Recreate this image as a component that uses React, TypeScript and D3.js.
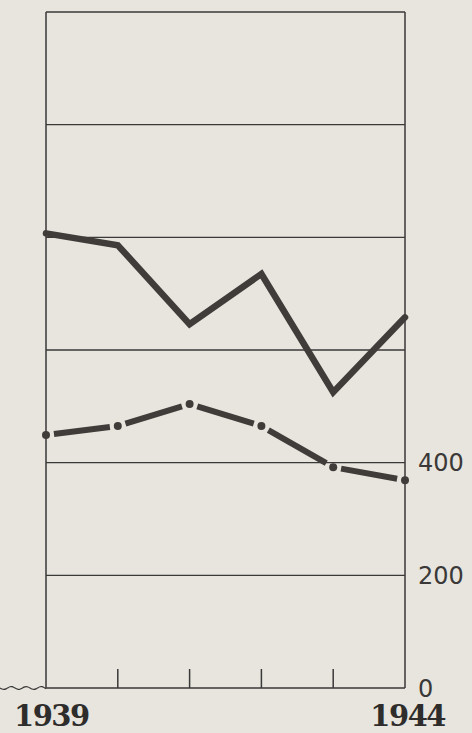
import { useEffect, useRef } from "react";
import * as d3 from "d3";

// years on the x axis
const years = [1939, 1940, 1941, 1942, 1943, 1944];
// upper series (solid heavy line)
const solidValues = [807, 786, 646, 735, 525, 658];
// lower series (dash-dot line)
const dashedValues = [449, 465, 504, 465, 392, 369];
// right axis tick labels
const yTicks = [0, 200, 400];
const gridValues = [200, 400, 600, 800, 1000, 1200];

const W = 472;
const H = 733;

const App = () => {
  const svgRef = useRef<SVGSVGElement | null>(null);

  useEffect(() => {
    if (!svgRef.current) return;
    const svg = d3.select(svgRef.current);
    svg.selectAll("*").remove();

    const ink = "#3b3938";
    const margin = { top: 12, right: 67, bottom: 45, left: 46 };
    const width = W - margin.left - margin.right;
    const height = H - margin.top - margin.bottom;

    svg.append("rect").attr("width", W).attr("height", H).attr("fill", "#e7e5de");

    const g = svg.append("g").attr("transform", `translate(${margin.left},${margin.top})`);

    const x = d3.scaleLinear().domain([1939, 1944]).range([0, width]);
    const y = d3.scaleLinear().domain([0, 1200]).range([height, 0]);

    // grid lines
    g.selectAll("line.grid")
      .data(gridValues)
      .enter()
      .append("line")
      .attr("x1", 0)
      .attr("x2", width)
      .attr("y1", (d) => y(d))
      .attr("y2", (d) => y(d))
      .attr("stroke", ink)
      .attr("stroke-width", 1.3);

    // frame sides + baseline
    g.append("path")
      .attr("d", `M0,${y(0)}V${y(1200)}M${width},${y(1200)}V${y(0)}M0,${y(0)}H${width}`)
      .attr("fill", "none")
      .attr("stroke", ink)
      .attr("stroke-width", 1.5);

    // inner x ticks
    g.selectAll("line.tick")
      .data(years.slice(1, -1))
      .enter()
      .append("line")
      .attr("x1", (d) => x(d))
      .attr("x2", (d) => x(d))
      .attr("y1", y(0))
      .attr("y2", y(0) - 19)
      .attr("stroke", ink)
      .attr("stroke-width", 1.5);

    // wavy break line left of the frame
    const wave = d3.range(0, margin.left + 1, 2).map((px) => [px - margin.left, y(0) + 1.6 * Math.sin((px / 15) * Math.PI * 2)] as [number, number]);
    g.append("path")
      .attr("d", d3.line().curve(d3.curveBasis)(wave))
      .attr("fill", "none")
      .attr("stroke", ink)
      .attr("stroke-width", 1.2);

    // right axis labels
    g.selectAll("text.ylab")
      .data(yTicks)
      .enter()
      .append("text")
      .attr("x", width + 13)
      .attr("y", (d) => y(d))
      .attr("dy", "0.36em")
      .attr("font-family", "DejaVu Sans")
      .attr("font-size", 24)
      .attr("fill", ink)
      .text((d) => d);

    // year labels
    const yearLabel = (yr: number, px: number, anchor: string) =>
      g.append("text")
        .attr("x", px)
        .attr("y", y(0) + 38)
        .attr("text-anchor", anchor)
        .attr("font-family", "DejaVu Serif")
        .attr("font-weight", "bold")
        .attr("font-size", 29)
        .attr("letter-spacing", -1.5)
        .attr("fill", "#2f2d2c")
        .text(yr);
    yearLabel(years[0], x(1939) - 32, "start");
    yearLabel(years[5], x(1944) + 40, "end");

    // solid series
    const solidData = years.map((yr, i) => ({ yr, v: solidValues[i] }));
    const line = d3
      .line<{ yr: number; v: number }>()
      .x((d) => x(d.yr))
      .y((d) => y(d.v));
    g.append("path")
      .datum(solidData)
      .attr("d", line)
      .attr("fill", "none")
      .attr("stroke", "#3f3c3a")
      .attr("stroke-width", 6.5)
      .attr("stroke-linejoin", "miter")
      .attr("stroke-linecap", "round");

    // dash-dot series: segments broken at each point, dot at each point
    const dashedData = years.map((yr, i) => ({ yr, v: dashedValues[i] }));
    const gap = 8;
    d3.pairs(dashedData).forEach(([a, b]) => {
      const x1 = x(a.yr), y1 = y(a.v), x2 = x(b.yr), y2 = y(b.v);
      const len = Math.hypot(x2 - x1, y2 - y1);
      const ux = (x2 - x1) / len, uy = (y2 - y1) / len;
      g.append("line")
        .attr("x1", x1 + ux * gap)
        .attr("y1", y1 + uy * gap)
        .attr("x2", x2 - ux * gap)
        .attr("y2", y2 - uy * gap)
        .attr("stroke", "#3f3c3a")
        .attr("stroke-width", 6);
    });
    g.selectAll("circle.pt")
      .data(dashedData)
      .enter()
      .append("circle")
      .attr("cx", (d) => x(d.yr))
      .attr("cy", (d) => y(d.v))
      .attr("r", 4)
      .attr("fill", "#3f3c3a");
  }, []);

  return (
    <svg
      ref={svgRef}
      width={W}
      height={H}
      style={{ position: "absolute", left: 0, top: 0, display: "block" }}
    ></svg>
  );
};

export default App;
